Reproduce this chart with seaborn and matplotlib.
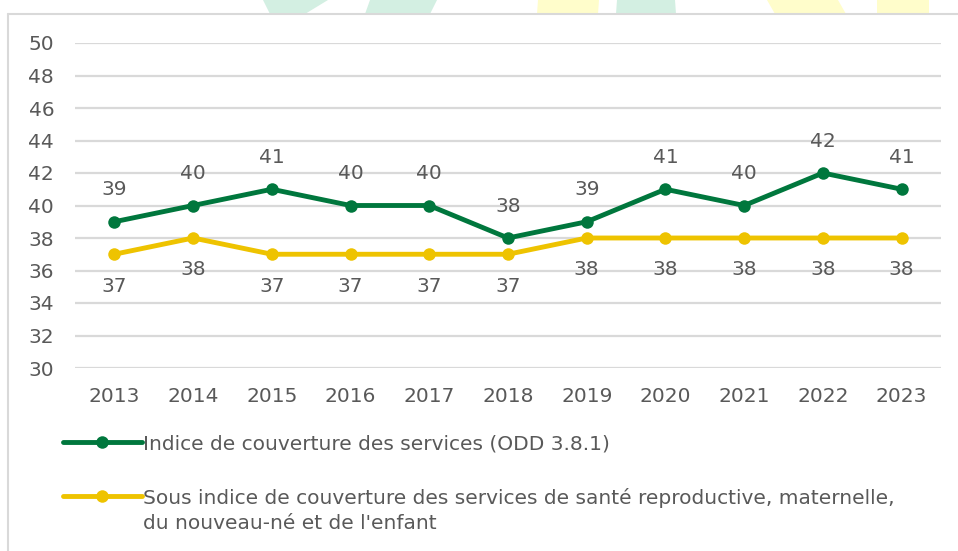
import matplotlib
matplotlib.use("Agg")
import matplotlib.pyplot as plt
import seaborn as sns
import pandas as pd
from matplotlib.patches import Polygon

years = [2013, 2014, 2015, 2016, 2017, 2018, 2019, 2020, 2021, 2022, 2023]
indice_services = [39, 40, 41, 40, 40, 38, 39, 41, 40, 42, 41]
sous_indice_smne = [37, 38, 37, 37, 37, 37, 38, 38, 38, 38, 38]
series_names = [
    "Indice de couverture des services (ODD 3.8.1)",
    "Sous indice de couverture des services de santé reproductive, maternelle,\ndu nouveau-né et de l'enfant",
]
y_ticks = list(range(30, 51, 2))

GREEN = "#00773D"
YELLOW = "#EEC300"
TEXT = "#595959"
GRID = "#D9D9D9"
FS = 14.5

sns.set_theme(style="white")
plt.rcParams["font.family"] = ["DejaVu Sans"]

df = pd.DataFrame({
    "year": years * 2,
    "value": indice_services + sous_indice_smne,
    "serie": [series_names[0]] * len(years) + [series_names[1]] * len(years),
})

fig = plt.figure(figsize=(9.58, 5.51), dpi=100)
W, H = 958, 551

# decorative watermark shapes at the top
shapes = [
    ([(263, 0), (328, 0), (305, 14), (270, 14)], "#D3EFE2"),
    ([(370, 0), (437, 0), (430, 14), (365, 14)], "#D3EFE2"),
    ([(617, 0), (675, 0), (676, 14), (616, 14)], "#D3EFE2"),
    ([(538, 0), (599, 0), (598, 14), (537, 14)], "#FFFDCB"),
    ([(767, 0), (838, 0), (846, 14), (775, 14)], "#FFFDCB"),
    ([(877, 0), (929, 0), (929, 14), (877, 14)], "#FFFDCB"),
]
for pts, c in shapes:
    fig.patches.append(Polygon([(x / W, 1 - y / H) for x, y in pts], closed=True,
                               transform=fig.transFigure, facecolor=c, edgecolor="none", zorder=0))
# chart frame (left and top border)
fig.add_artist(plt.Line2D([8 / W, 8 / W], [0, 1 - 14 / H], transform=fig.transFigure, color=GRID, lw=1.5))
fig.add_artist(plt.Line2D([8 / W, 1], [1 - 14 / H, 1 - 14 / H], transform=fig.transFigure, color=GRID, lw=1.5))

ax = fig.add_axes([75 / W, 1 - 368 / H, (941 - 75) / W, (368 - 43) / H])
ax.set_facecolor("none")

sns.lineplot(data=df, x="year", y="value", hue="serie", palette=[GREEN, YELLOW],
             marker="o", markersize=9, markeredgewidth=0, linewidth=3.5, ax=ax, legend=True)

ax.set_xlim(2012.5, 2023.5)
ax.set_ylim(30, 50)
ax.set_yticks(y_ticks)
ax.set_xticks(years)
ax.set_xticklabels([str(y) for y in years])
ax.set_xlabel("")
ax.set_ylabel("")
ax.grid(axis="y", color=GRID, lw=1.6)
ax.set_axisbelow(True)
for s in ax.spines.values():
    s.set_visible(False)
ax.tick_params(axis="both", length=0, labelsize=FS, labelcolor=TEXT)
ax.tick_params(axis="x", pad=14)
ax.tick_params(axis="y", pad=15)

for x, v in zip(years, indice_services):
    ax.annotate(str(v), (x, v), xytext=(0, 23), textcoords="offset points",
                ha="center", va="center", fontsize=FS, color=TEXT)
for x, v in zip(years, sous_indice_smne):
    ax.annotate(str(v), (x, v), xytext=(0, -23), textcoords="offset points",
                ha="center", va="center", fontsize=FS, color=TEXT)

handles, labels = ax.get_legend_handles_labels()
ax.get_legend().remove()
leg = fig.legend(handles, labels, loc="upper left", bbox_to_anchor=(55 / W, 1 - 426 / H),
                 frameon=False, fontsize=FS, handlelength=3.9, handletextpad=0.05,
                 handleheight=1.1, labelspacing=1.7, labelcolor=TEXT, borderaxespad=0)
for t in leg.get_texts():
    t.set_linespacing(1.4)
for col in leg._legend_handle_box.get_children():
    for item in col.get_children():
        item.align = "top"

fig.savefig("out.png", dpi=100, facecolor="white")
